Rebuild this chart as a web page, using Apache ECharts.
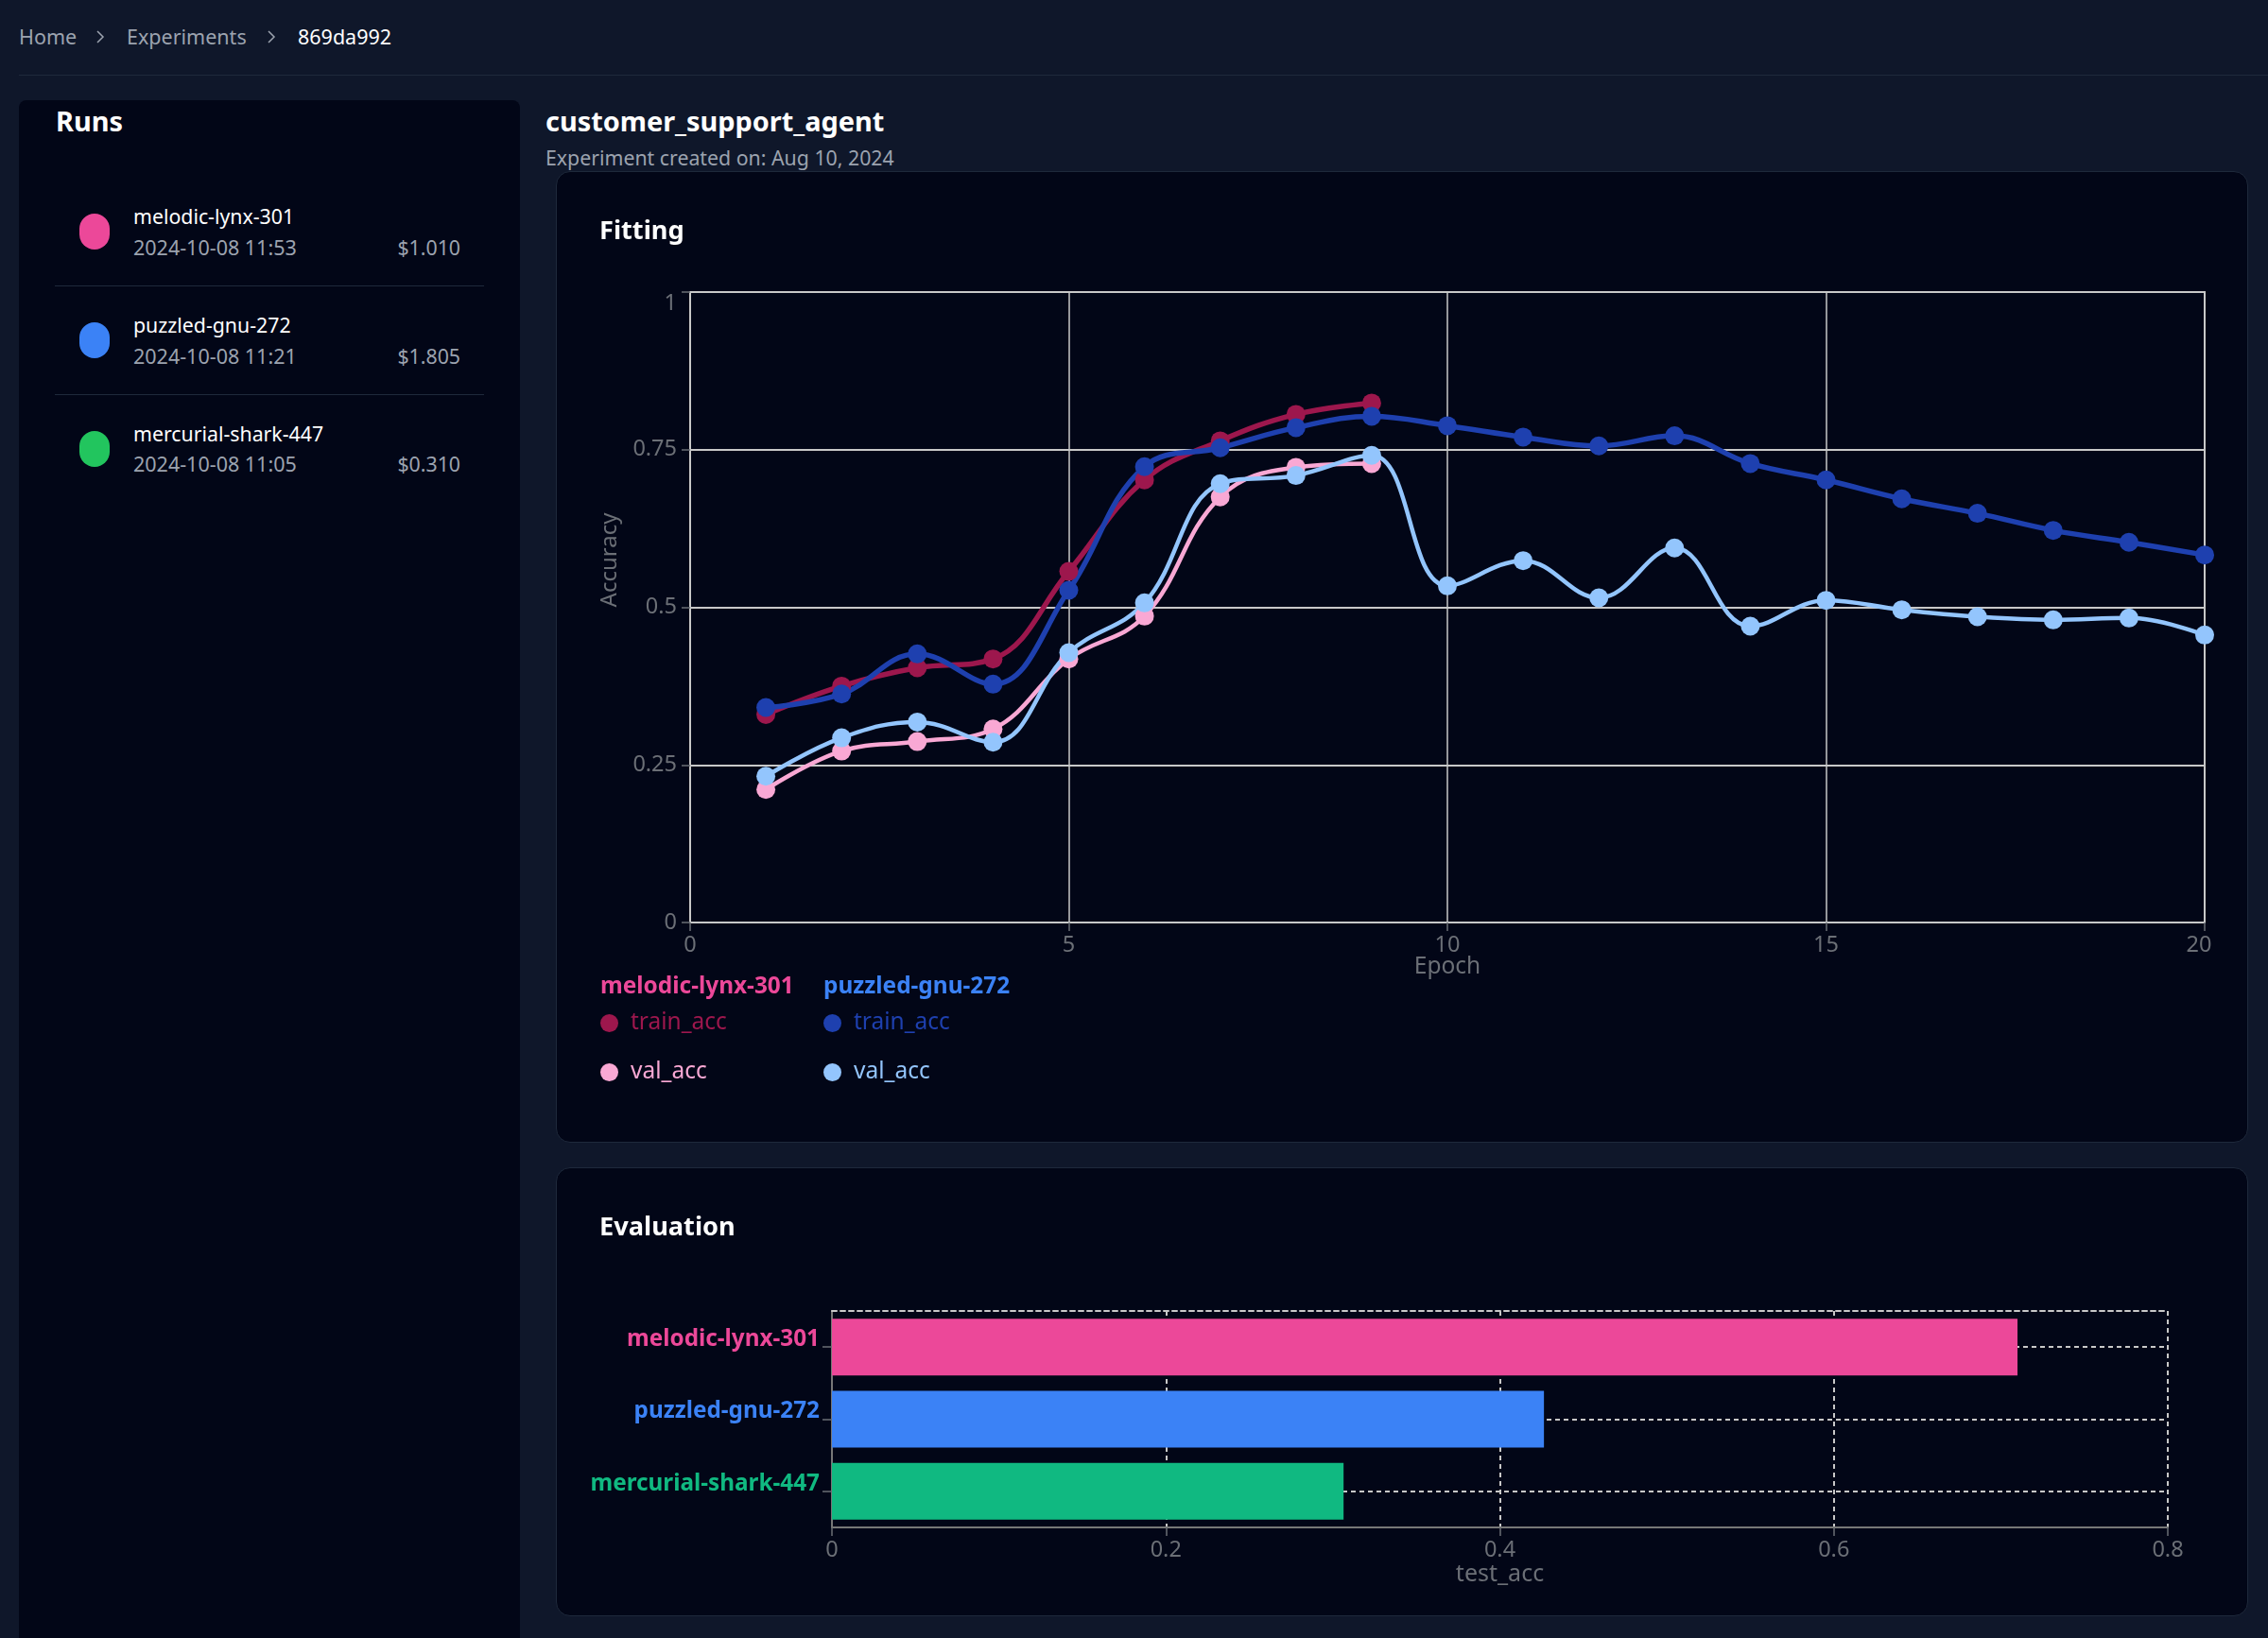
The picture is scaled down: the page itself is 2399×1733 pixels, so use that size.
<!DOCTYPE html>
<html>
<head>
<meta charset="utf-8">
<title>customer_support_agent</title>
<script src="https://cdn.jsdelivr.net/npm/echarts@6/dist/echarts.min.js"></script>
<style>
  html, body { margin: 0; padding: 0; background: #0f172a; width: 2399px; height: 1733px; overflow: hidden; }
  body, body * { font-family: "Noto Sans", sans-serif; box-sizing: border-box; }
  .abs { position: absolute; white-space: nowrap; line-height: 1; }
  .crumb { top: 28px; font-size: 21.5px; color: #9ca3af; }
  .chev { position: absolute; top: 30px; }
  .rule { position: absolute; left: 20px; right: 0; top: 79px; height: 1px; background: #1e293b; }
  .side { position: absolute; left: 20px; top: 106px; width: 530px; bottom: 0; background: #020617; border-radius: 8px 8px 0 0; }
  .panel { position: absolute; left: 588px; width: 1790px; background: #020617; border: 1px solid #1e293b; border-radius: 15px; }
  .head { font-size: 28.9px; font-weight: 700; color: #fff; }
  .pill { position: absolute; left: 84px; width: 32px; height: 38px; border-radius: 16px; }
  .name { left: 141px; font-size: 21.3px; color: #fff; }
  .date { left: 141px; font-size: 21.5px; color: #9ca3af; }
  .cost { right: 1912px; font-size: 21.3px; color: #9ca3af; }
  .div { position: absolute; left: 58px; width: 454px; height: 1px; background: #1e293b; }
  .chart { position: absolute; left: 0; top: 0; width: 100%; height: 100%; }
  .title { left: 45px; font-size: 27.2px; font-weight: 700; color: #fff; }
</style>
</head>
<body>
<div class="abs crumb" style="left:20px">Home</div>
<svg class="chev" style="left:100px" width="12" height="18" viewBox="0 0 12 18"><path d="M3 3l6 6-6 6" fill="none" stroke="#9ca3af" stroke-width="1.5"/></svg>
<div class="abs crumb" style="left:134px">Experiments</div>
<svg class="chev" style="left:281px" width="12" height="18" viewBox="0 0 12 18"><path d="M3 3l6 6-6 6" fill="none" stroke="#9ca3af" stroke-width="1.5"/></svg>
<div class="abs crumb" style="left:315px;color:#fff">869da992</div>
<div class="rule"></div>

<div class="side"></div>
<div class="abs head" style="left:59px;top:114px">Runs</div>
<div id="runs"></div>

<div class="abs head" style="left:577px;top:114px">customer_support_agent</div>
<div class="abs" style="left:577px;top:156px;font-size:21.3px;color:#9ca3af">Experiment created on: Aug 10, 2024</div>

<div class="panel" style="top:181px;height:1028px">
  <div id="fitting" class="chart"></div>
  <div class="abs title" style="top:47px">Fitting</div>
</div>
<div class="panel" style="top:1235px;height:475px">
  <div id="evaluation" class="chart"></div>
  <div class="abs title" style="top:47px">Evaluation</div>
</div>

<script>
var runNames = ['melodic-lynx-301', 'puzzled-gnu-272', 'mercurial-shark-447'];
var runDates = ['2024-10-08 11:53', '2024-10-08 11:21', '2024-10-08 11:05'];
var runCosts = ['$1.010', '$1.805', '$0.310'];
var runColors = ['#ec4899', '#3b82f6', '#22c55e'];
var barColors = ['#ec4899', '#3b82f6', '#10b981'];

var epochs = [1, 2, 3, 4, 5, 6, 7, 8, 9, 10, 11, 12, 13, 14, 15, 16, 17, 18, 19, 20];
var melodicTrain = [0.330, 0.375, 0.404, 0.418, 0.557, 0.702, 0.764, 0.806, 0.824];
var melodicVal = [0.211, 0.272, 0.287, 0.307, 0.418, 0.486, 0.675, 0.722, 0.728];
var puzzledTrain = [0.341, 0.3625, 0.426, 0.378, 0.527, 0.723, 0.753, 0.785, 0.803, 0.788, 0.770, 0.756, 0.772, 0.728, 0.702, 0.672, 0.649, 0.622, 0.603, 0.583];
var puzzledVal = [0.232, 0.293, 0.318, 0.286, 0.428, 0.507, 0.696, 0.709, 0.741, 0.534, 0.574, 0.515, 0.594, 0.470, 0.511, 0.496, 0.485, 0.480, 0.483, 0.456];
var testAcc = [0.710, 0.4264, 0.3064];

var axisText = '#6b6f76';
var gridLine = '#c8c8c8';
var FONT = '"Noto Sans", sans-serif';

// sidebar list
var runsHtml = '';
var pillTop = [226, 341, 456], nameTop = [218, 333, 448], dateTop = [251, 366, 480];
for (var i = 0; i < runNames.length; i++) {
    runsHtml += '<div class="pill" style="top:' + pillTop[i] + 'px;background:' + runColors[i] + '"></div>';
    runsHtml += '<div class="abs name" style="top:' + nameTop[i] + 'px">' + runNames[i] + '</div>';
    runsHtml += '<div class="abs date" style="top:' + dateTop[i] + 'px">' + runDates[i] + '</div>';
    runsHtml += '<div class="abs cost" style="top:' + dateTop[i] + 'px">' + runCosts[i] + '</div>';
}
runsHtml += '<div class="div" style="top:302px"></div><div class="div" style="top:417px"></div>';
document.getElementById('runs').innerHTML = runsHtml;

function makeLine(name, values, color, width) {
    return {
        name: name,
        type: 'line',
        smooth: 0.4,
        clip: false,
        symbol: 'circle',
        symbolSize: 20,
        showAllSymbol: true,
        lineStyle: { color: color, width: width },
        itemStyle: { color: color },
        data: values.map(function (v, i) { return [epochs[i], v]; })
    };
}

function makeLegend(left, prefix, trainColor, valColor) {
    return {
        left: left,
        top: 888,
        padding: 0,
        orient: 'vertical',
        icon: 'circle',
        itemWidth: 19,
        itemHeight: 19,
        itemGap: 27,
        selectedMode: false,
        formatter: function (name) { return name.split(' ')[1]; },
        textStyle: { fontFamily: FONT, fontSize: 24.5, padding: [0, 0, 0, 8] },
        data: [
            { name: prefix + ' train_acc', textStyle: { color: trainColor } },
            { name: prefix + ' val_acc', textStyle: { color: valColor } }
        ]
    };
}

var fitting = echarts.init(document.getElementById('fitting'));
fitting.setOption({
    animation: false,
    backgroundColor: 'transparent',
    grid: { left: 141, top: 127, width: 1602, height: 667, show: true, borderColor: gridLine, borderWidth: 2, backgroundColor: 'transparent' },
    xAxis: {
        type: 'value',
        min: 0,
        max: 20,
        interval: 5,
        name: 'Epoch',
        nameLocation: 'middle',
        nameGap: 35,
        nameMoveOverlap: false,
        nameTextStyle: { color: axisText, fontFamily: FONT, fontSize: 24.5 },
        axisLine: { lineStyle: { color: gridLine, width: 2 } },
        axisTick: { length: 9, lineStyle: { color: axisText, width: 1.5 } },
        axisLabel: {
            color: axisText,
            fontFamily: FONT,
            fontSize: 23.5,
            margin: 12,
            showMaxLabel: true,
            formatter: function (v) { return v === 20 ? '{end|20}' : String(v); },
            rich: { end: { color: axisText, fontFamily: FONT, fontSize: 23.5, padding: [0, 12, 0, 0] } }
        },
        splitLine: { lineStyle: { color: gridLine, width: 1.5 } }
    },
    yAxis: {
        type: 'value',
        min: 0,
        max: 1,
        interval: 0.25,
        name: 'Accuracy',
        nameLocation: 'middle',
        nameGap: 73,
        nameTextStyle: { color: axisText, fontFamily: FONT, fontSize: 24, padding: [0, 0, 0, 100] },
        axisLine: { show: true, lineStyle: { color: gridLine, width: 1.5 } },
        axisTick: { show: true, length: 9, lineStyle: { color: axisText, width: 1.5 } },
        axisLabel: { color: axisText, fontFamily: FONT, fontSize: 23.5, margin: 14, verticalAlignMaxLabel: 'top' },
        splitLine: { lineStyle: { color: gridLine, width: 2 } }
    },
    legend: [
        makeLegend(46, 'melodic', '#9d174d', '#f9a8d4'),
        makeLegend(282, 'puzzled', '#1e40af', '#93c5fd')
    ],
    graphic: [
        { type: 'text', left: 46, top: 850, style: { text: runNames[0], fill: barColors[0], font: '700 24.4px ' + FONT } },
        { type: 'text', left: 282, top: 850, style: { text: runNames[1], fill: barColors[1], font: '700 24.4px ' + FONT } }
    ],
    series: [
        makeLine('melodic train_acc', melodicTrain, '#9d174d', 5.5),
        makeLine('melodic val_acc', melodicVal, '#f9a8d4', 4.5),
        makeLine('puzzled train_acc', puzzledTrain, '#1e40af', 5.5),
        makeLine('puzzled val_acc', puzzledVal, '#93c5fd', 4.5)
    ]
});

var evaluation = echarts.init(document.getElementById('evaluation'));
var dashed = { color: '#c8c8c8', width: 2, type: [5, 4] };
evaluation.setOption({
    animation: false,
    backgroundColor: 'transparent',
    grid: { left: 291, top: 151, width: 1413, height: 229 },
    xAxis: [{
        type: 'value',
        min: 0,
        max: 0.8,
        interval: 0.2,
        name: 'test_acc',
        nameLocation: 'middle',
        nameGap: 37,
        nameMoveOverlap: false,
        nameTextStyle: { color: axisText, fontFamily: FONT, fontSize: 25 },
        axisLine: { show: true, lineStyle: { color: '#777', width: 2 } },
        axisTick: { show: true, length: 9, lineStyle: { color: axisText, width: 1.5 } },
        axisLabel: { color: axisText, fontFamily: FONT, fontSize: 23.5, margin: 12 },
        splitLine: { lineStyle: dashed }
    }, {
        type: 'value',
        position: 'top',
        min: 0,
        max: 0.8,
        interval: 0.2,
        axisLine: { show: true, lineStyle: dashed },
        axisTick: { show: false },
        axisLabel: { show: false },
        splitLine: { show: false }
    }],
    yAxis: {
        type: 'category',
        inverse: true,
        data: runNames,
        axisLine: { show: true, lineStyle: { color: '#777', width: 2 } },
        axisTick: { show: true, alignWithLabel: true, length: 10, lineStyle: { color: axisText, width: 1.5 } },
        axisLabel: {
            fontFamily: FONT,
            fontSize: 24.3,
            fontWeight: 700,
            margin: 13,
            verticalAlign: 'bottom',
            lineHeight: 16,
            color: function (value) { return barColors[runNames.indexOf(value)]; }
        },
        splitLine: { show: true, alignWithLabel: true, lineStyle: dashed }
    },
    series: [{
        type: 'bar',
        xAxisIndex: 0,
        barWidth: 60,
        data: testAcc.map(function (v, i) { return { value: v, itemStyle: { color: barColors[i] } }; })
    }]
});
</script>
</body>
</html>
